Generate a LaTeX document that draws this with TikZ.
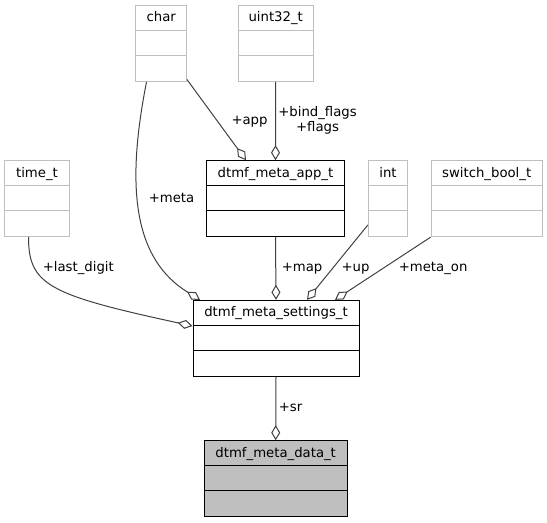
\documentclass[tikz,border=0pt]{standalone}
\usepackage{fontspec}
\setmainfont{DejaVu Sans}
\usepackage{tikz}
\usetikzlibrary{arrows.meta,calc}
\definecolor{edgegray}{HTML}{404040}
\definecolor{boxgray}{HTML}{BFBFBF}
\tikzset{>={Diamond[fill=white,length=15bp,width=9bp]}}
\tikzset{
  cls/.style={draw=black, line width=1bp, inner sep=0pt, minimum height=76bp,
    text height=16.5bp, text depth=59.5bp, font=\fontsize{13.3}{15}\selectfont},
  ext/.style={cls, draw=boxgray},
  conn/.style={draw=edgegray, line width=1bp, ->},
  lbl/.style={inner sep=0pt, anchor=base west, font=\fontsize{13.3}{15}\selectfont}
}
\newcommand{\classrows}[2]{%
  \draw[#2, line width=1bp] ($(#1.north west)+(0,25.3)$) -- ($(#1.north east)+(0,25.3)$)
    ($(#1.north west)+(0,50.6)$) -- ($(#1.north east)+(0,50.6)$);}

\begin{document}
\begin{tikzpicture}[x=1bp,y=-1bp]
  \useasboundingbox (0,0) rectangle (547,523);

  \node[ext, minimum width=50.5bp] (char) at (161.2,43.5) {char};
  \node[ext, minimum width=75.3bp] (uint) at (275.7,43.5) {uint32\_t};
  \node[cls, minimum width=137.6bp] (app) at (275.5,198.7) {dtmf\_meta\_app\_t};
  \node[ext, minimum width=64bp] (time) at (37,198.7) {time\_t};
  \node[ext, minimum width=39.3bp] (int) at (388,198.7) {int};
  \node[ext, minimum width=111.3bp] (switch) at (486.7,198.7) {switch\_bool\_t};
  \node[cls, minimum width=166bp] (settings) at (276,338.3) {dtmf\_meta\_settings\_t};
  \node[cls, fill=boxgray, minimum width=142.7bp] (data) at (275.7,478.7) {dtmf\_meta\_data\_t};
  \classrows{char}{boxgray}
  \classrows{uint}{boxgray}
  \classrows{time}{boxgray}
  \classrows{int}{boxgray}
  \classrows{switch}{boxgray}
  \classrows{app}{black}
  \classrows{settings}{black}
  \classrows{data}{black}

  \draw[conn] ([yshift=2.5bp]char.south east) -- ([xshift=-29.5bp]app.north);
  \draw[conn] (uint.south) -- (app.north);
  \draw[conn] ([xshift=-14.7bp]char.south) .. controls +(-21.5,109) and +(-65,-40) .. ([xshift=-76bp]settings.north);
  \draw[conn] ([xshift=-8.5bp]time.south) .. controls +(0,48) and +(-143,-31) .. ([yshift=12.3bp]settings.west);
  \draw[conn] (app.south) -- (settings.north);
  \draw[conn] ([yshift=-26.3bp]int.west) -- ([xshift=31bp]settings.north);
  \draw[conn] (switch.south west) -- ([xshift=59bp]settings.north);
  \draw[conn] (settings.south) -- (data.north);

  \node[lbl] (lapp) at (231.3,125) {+app};
  \node[inner sep=0pt, align=center, font=\fontsize{13.3}{15}\selectfont] (lflags) at (317.5,120.5) {+bind\_flags\\+flags};
  \node[lbl] (lmeta) at (148.6,202.7) {+meta};
  \node[lbl] (llast) at (42.6,271.5) {+last\_digit};
  \node[lbl] (lmap) at (281.6,271.5) {+map};
  \node[lbl] (lup) at (341.3,271.5) {+up};
  \node[lbl] (lmetaon) at (398.6,271.5) {+meta\_on};
  \node[lbl] (lsr) at (278.6,411.5) {+sr};
\end{tikzpicture}
\end{document}
